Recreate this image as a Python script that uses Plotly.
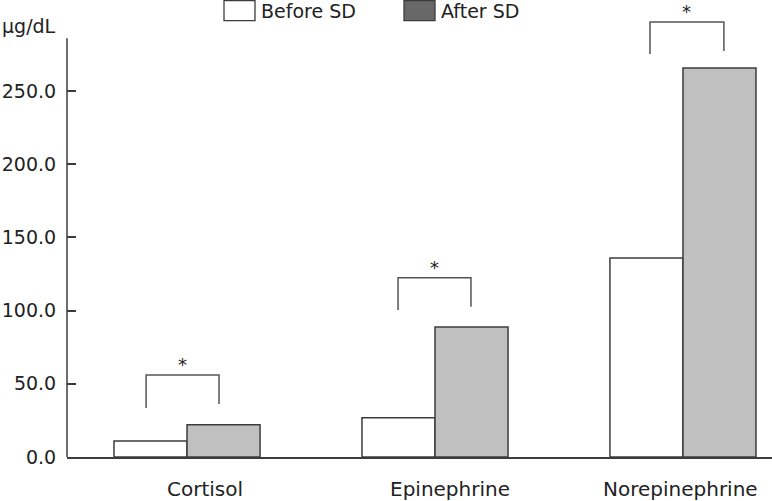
import plotly.graph_objects as go

categories = ["Cortisol", "Epinephrine", "Norepinephrine"]
before_sd = [11.0, 26.8, 136.0]
after_sd = [22.0, 88.8, 265.7]
series_names = ["Before SD", "After SD"]
bracket_top = [56.0, 122.5, 297.1]
bracket_left_end = [33.5, 100.4, 275.3]
bracket_right_end = [36.2, 102.7, 277.3]
sig_marks = ["*", "*", "*"]
y_ticks = [0, 50, 100, 150, 200, 250]
y_unit = "μg/dL"

FONT = "DejaVu Sans"
EDGE = "#3c3c3c"
PH = 453  # plot height in px
YR = [0, PH / 1.464]

def py(px):
    """pixel row (from top of image) to paper y"""
    return 1 + (4 - px) / PH

def pxx(px):
    return (px - 67) / 705

fig = go.Figure()
fig.add_trace(go.Bar(x=categories, y=before_sd, name=series_names[0],
                     marker=dict(color="white", line=dict(color=EDGE, width=1.5)),
                     showlegend=False))
fig.add_trace(go.Bar(x=categories, y=after_sd, name=series_names[1],
                     marker=dict(color="#c0c0c0", line=dict(color=EDGE, width=1.5)),
                     showlegend=False))
# invisible trace carrying the label axis
fig.add_trace(go.Scatter(x=categories, y=before_sd, yaxis="y2", mode="markers",
                         marker=dict(opacity=0), showlegend=False, hoverinfo="skip"))

shapes = []
annotations = []
left_off = [-0.165, -0.149, -0.133]
right_off = [0.129, 0.145, 0.165]
for i in range(len(categories)):
    xl = i + left_off[i]
    xr = i + right_off[i]
    shapes.append(dict(type="path", xref="x", yref="y",
                       path=f"M {xl},{bracket_left_end[i]} L {xl},{bracket_top[i]} L {xr},{bracket_top[i]} L {xr},{bracket_right_end[i]}",
                       line=dict(color="#555555", width=1.5)))
    annotations.append(dict(x=(xl + xr) / 2, y=bracket_top[i], xref="x", yref="y",
                            text=sig_marks[i], showarrow=False, yanchor="bottom",
                            yshift=-2, font=dict(family=FONT, size=18, color="#222")))

# category labels
label_shift = [18, 15, -2]
for i, c in enumerate(categories):
    annotations.append(dict(x=i, y=py(489), xref="x", yref="paper", text=c, showarrow=False,
                            yanchor="middle", xshift=label_shift[i],
                            font=dict(family=FONT, size=20, color="#222")))

# y-axis line
shapes.append(dict(type="line", xref="paper", yref="y", x0=0, x1=0, y0=0, y1=286,
                   line=dict(color=EDGE, width=1.5)))

# unit label
annotations.append(dict(x=pxx(0), y=py(26), xref="paper", yref="paper", text=y_unit,
                        showarrow=False, xanchor="left", yanchor="middle",
                        font=dict(family=FONT, size=19, color="#222")))

# legend
shapes.append(dict(type="rect", xref="paper", yref="paper",
                   x0=pxx(224), x1=pxx(255), y0=py(20.7), y1=py(0.7),
                   fillcolor="white", line=dict(color=EDGE, width=1.3)))
shapes.append(dict(type="rect", xref="paper", yref="paper",
                   x0=pxx(404), x1=pxx(435), y0=py(20.7), y1=py(0.7),
                   fillcolor="#686868", line=dict(color=EDGE, width=1.3)))
annotations.append(dict(x=pxx(259), y=py(11), xref="paper", yref="paper",
                        text=series_names[0], showarrow=False, xanchor="left", yanchor="middle",
                        font=dict(family=FONT, size=19, color="#222")))
annotations.append(dict(x=pxx(439), y=py(11), xref="paper", yref="paper",
                        text=series_names[1], showarrow=False, xanchor="left", yanchor="middle",
                        font=dict(family=FONT, size=19, color="#222")))

fig.update_layout(
    width=772, height=501,
    margin=dict(l=67, r=0, t=4, b=44),
    paper_bgcolor="white", plot_bgcolor="white",
    barmode="group", bargap=0.411, bargroupgap=0,
    shapes=shapes, annotations=annotations,
    font=dict(family=FONT, size=19, color="#222"),
    xaxis=dict(type="category", range=[-0.484, 2.359], showticklabels=False,
               showline=True, linecolor=EDGE, linewidth=1.5, ticks="",
               showgrid=False, zeroline=False, automargin=False),
    yaxis=dict(range=YR, tickvals=y_ticks, showticklabels=False,
               ticks="inside", ticklen=9, tickwidth=1.5, tickcolor=EDGE,
               showline=False, showgrid=False, zeroline=False, automargin=False),
    yaxis2=dict(range=YR, overlaying="y", side="left", anchor="x",
                tickvals=y_ticks, ticktext=[f"{v:.1f}" for v in y_ticks],
                ticks="outside", ticklen=6, tickcolor="rgba(0,0,0,0)",
                showline=False, showgrid=False, zeroline=False, automargin=False,
                tickfont=dict(family=FONT, size=19, color="#222")),
)

fig.write_html("out.html", config={"displayModeBar": False},
               post_script="document.body.style.margin='0px';document.body.style.overflow='hidden';")
